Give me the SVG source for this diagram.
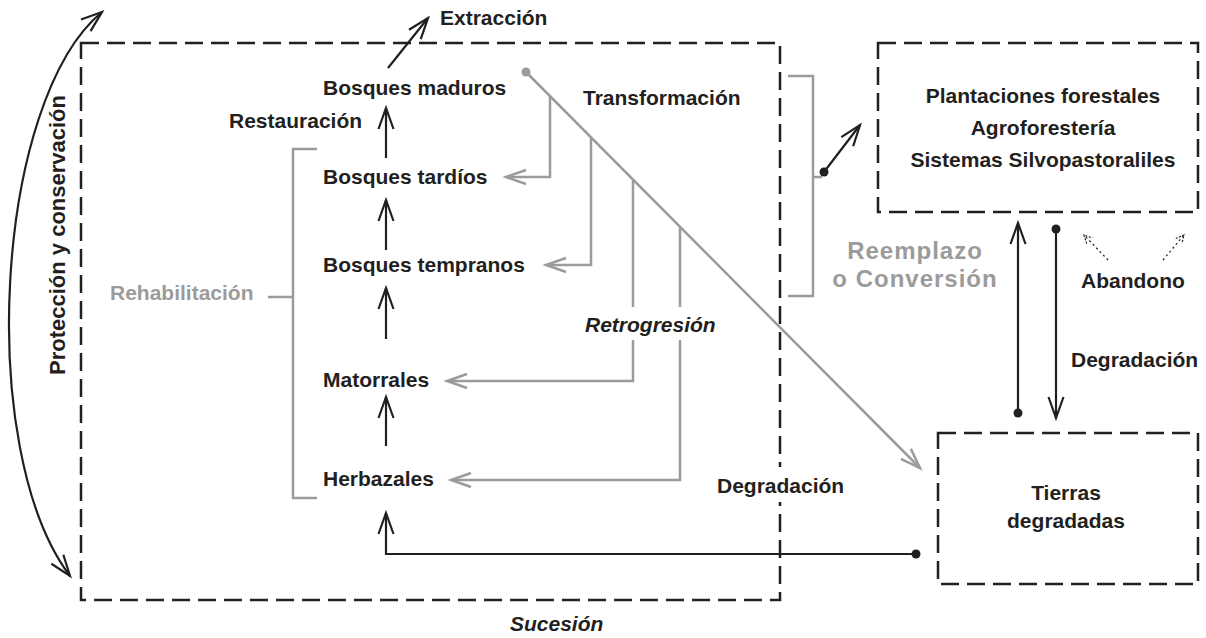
<svg xmlns="http://www.w3.org/2000/svg" width="1206" height="638" viewBox="0 0 1206 638">
<defs>
<style>
text{font-family:"Liberation Sans",Arial,Helvetica,sans-serif;font-weight:bold;font-size:21px;fill:#231f20}
.g{fill:#9b9b9b}
.it{font-style:italic}
.rc{font-size:24px;letter-spacing:1px}
.box{fill:none;stroke:#231f20;stroke-width:2.5;stroke-dasharray:18 8}
.k{fill:none;stroke:#231f20;stroke-width:2.2}
.gl{fill:none;stroke:#9b9b9b;stroke-width:2.5}
.dt{fill:none;stroke:#231f20;stroke-width:1.3;stroke-dasharray:2 3}
</style>
<marker id="ak" markerUnits="userSpaceOnUse" viewBox="-24 -12 28 24" refX="0" refY="0" markerWidth="28" markerHeight="24" orient="auto-start-reverse"><path d="M-21,-7.5 L0,0 L-21,7.5" fill="none" stroke="#231f20" stroke-width="2.2"/></marker>
<marker id="ag" markerUnits="userSpaceOnUse" viewBox="-24 -12 28 24" refX="0" refY="0" markerWidth="28" markerHeight="24" orient="auto"><path d="M-20,-7 L0,0 L-20,7" fill="none" stroke="#9b9b9b" stroke-width="2.5"/></marker>
<marker id="as" markerUnits="userSpaceOnUse" viewBox="-12 -6 14 12" refX="0" refY="0" markerWidth="14" markerHeight="12" orient="auto"><path d="M-8,-4 L0,0 L-8,4" fill="none" stroke="#231f20" stroke-width="1.2" stroke-dasharray="2 1.5"/></marker>
<marker id="dk" markerUnits="userSpaceOnUse" viewBox="-6 -6 12 12" refX="0" refY="0" markerWidth="12" markerHeight="12"><circle r="4.5" fill="#231f20"/></marker>
<marker id="dg" markerUnits="userSpaceOnUse" viewBox="-6 -6 12 12" refX="0" refY="0" markerWidth="12" markerHeight="12"><circle r="4.5" fill="#9b9b9b"/></marker>
</defs>
<rect width="1206" height="638" fill="#fff"/>

<g id="sucesion-box">
<rect class="box" x="81" y="43" width="699" height="557"/>
<rect x="774" y="467" width="12" height="35" fill="#fff"/>
<text class="it" x="510" y="631">Sucesión</text>
</g>
<g id="plantaciones">
<rect class="box" x="878" y="43" width="320" height="169"/>
<text x="1043" y="103" text-anchor="middle">Plantaciones forestales</text>
<text x="1043" y="135" text-anchor="middle">Agroforestería</text>
<text x="1043" y="167" text-anchor="middle">Sistemas Silvopastoraliles</text>
</g>
<g id="tierras">
<rect class="box" x="938" y="433" width="260" height="151"/>
<text x="1066" y="500" text-anchor="middle">Tierras</text>
<text x="1066" y="528" text-anchor="middle">degradadas</text>
</g>
<g id="bosques-maduros"><text x="323" y="95">Bosques maduros</text></g>
<g id="bosques-tardios"><text x="323" y="184">Bosques tardíos</text></g>
<g id="bosques-tempranos"><text x="323" y="272">Bosques tempranos</text></g>
<g id="matorrales"><text x="323" y="387">Matorrales</text></g>
<g id="herbazales"><text x="323" y="486">Herbazales</text></g>

<g id="labels">
<text x="440" y="25">Extracción</text>
<text x="229" y="128">Restauración</text>
<text x="583" y="105">Transformación</text>
<text class="g" x="110" y="300">Rehabilitación</text>
<text class="it" x="585" y="332">Retrogresión</text>
<text x="717" y="493">Degradación</text>
<text x="1071" y="367">Degradación</text>
<text x="1081" y="288">Abandono</text>
<text class="g rc" x="915" y="259" text-anchor="middle">Reemplazo</text>
<text class="g rc" x="915" y="287" text-anchor="middle">o Conversión</text>
<text x="65" y="235" text-anchor="middle" transform="rotate(-90 65 235)" style="font-size:22px">Protección y conservación</text>
</g>

<g id="connectors">
<path class="k" d="M386,158 V108" marker-end="url(#ak)"/>
<path class="k" d="M386,250 V200" marker-end="url(#ak)"/>
<path class="k" d="M386,339 V288" marker-end="url(#ak)"/>
<path class="k" d="M386,446 V397" marker-end="url(#ak)"/>
<path class="k" d="M916,554 H386 V513" marker-start="url(#dk)" marker-end="url(#ak)"/>
<path class="k" d="M388,68 L428,18" marker-end="url(#ak)"/>
<path class="gl" d="M526,72 L920,468" marker-start="url(#dg)" marker-end="url(#ag)"/>
<path class="gl" d="M550,96 V177 H506" marker-end="url(#ag)"/>
<path class="gl" d="M591,137 V265 H546" marker-end="url(#ag)"/>
<path class="gl" d="M633,180 V307"/>
<path class="gl" d="M633,340 V381 H447" marker-end="url(#ag)"/>
<path class="gl" d="M680,227 V307"/>
<path class="gl" d="M680,340 V480 H451" marker-end="url(#ag)"/>
<path class="gl" d="M317,149 H293 V498 H317 M268,297 H293"/>
<path class="gl" d="M788,76 H813 V296 H788 M813,177 H822"/>
<path class="k" d="M824,172 L860,125" marker-start="url(#dk)" marker-end="url(#ak)"/>
<path class="k" d="M1018,413 V223" marker-start="url(#dk)" marker-end="url(#ak)"/>
<path class="k" d="M1056,229 V418" marker-start="url(#dk)" marker-end="url(#ak)"/>
<path class="dt" d="M1108,260 L1084,235" marker-end="url(#as)"/>
<path class="dt" d="M1163,260 L1184,235" marker-end="url(#as)"/>
<path class="k" d="M70,576 C-25,450 -5,100 102,12" marker-start="url(#ak)" marker-end="url(#ak)"/>
</g>
</svg>
